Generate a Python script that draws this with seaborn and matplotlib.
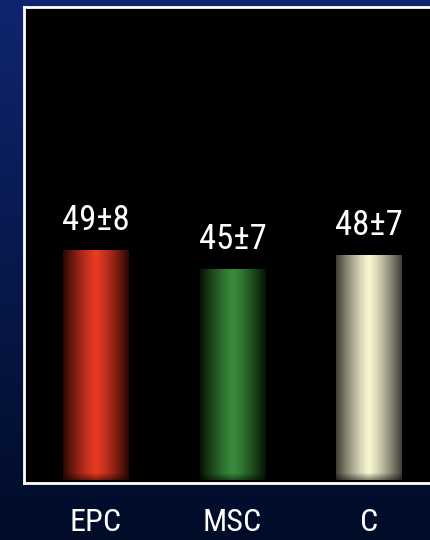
import numpy as np
import pandas as pd
import matplotlib
matplotlib.use("Agg")
import matplotlib.pyplot as plt
import seaborn as sns
from matplotlib import font_manager as fm
from matplotlib.colors import to_rgb

# ---- data ----
categories = ["EPC", "MSC", "C"]
means = [49, 45, 48]
sds = [8, 7, 7]
center_colors = ["#ea3b24", "#3a8c3c", "#f8f6d2"]
edge_colors = ["#2a0704", "#041204", "#3e3e36"]

df = pd.DataFrame({"group": categories, "value": means})

sns.set_theme(style="white")

# choose a narrow font if one is installed
names = {f.name for f in fm.fontManager.ttflist}
stretch = "normal"
family = "DejaVu Sans"
for cand in ["Liberation Sans Narrow", "Roboto Condensed", "Open Sans Condensed"]:
    if cand in names:
        family = cand
        break
else:
    if any(f.name == "DejaVu Sans" and f.stretch in ("condensed", 75, "semi-condensed")
           for f in fm.fontManager.ttflist):
        stretch = "condensed"
    elif "Noto Sans CJK JP" in names:
        family = "Noto Sans CJK JP"
plt.rcParams['font.family'] = [family, 'DejaVu Sans']

fig = plt.figure(figsize=(4.31, 5.40), dpi=100)

# background gradient
bg = fig.add_axes([0, 0, 1, 1], zorder=0)
grad = np.linspace(0, 1, 256).reshape(-1, 1)
top = np.array(to_rgb("#10256f"))
bot = np.array(to_rgb("#000c28"))
img = top[None, None, :] * (1 - grad[..., None]) + bot[None, None, :] * grad[..., None]
bg.imshow(img, aspect="auto", extent=[0, 1, 0, 1])
bg.set_axis_off()

ax = fig.add_axes([24 / 431, 1 - 483 / 540, (441 - 24) / 431, (483 - 7) / 540], zorder=1)
ax.set_facecolor("black")
sns.barplot(data=df, x="group", y="value", ax=ax, width=0.48,
            color="black", errorbar=None)

for i, patch in enumerate(ax.patches):
    x0, y0 = patch.get_x(), patch.get_y()
    w, h = patch.get_width(), patch.get_height()
    xs = np.linspace(-1, 1, 200)
    prof = np.clip(1 - np.abs(xs) ** 1.25, 0, 1)
    c1 = np.array(to_rgb(center_colors[i]))
    c0 = np.array(to_rgb(edge_colors[i]))
    row = c0[None, :] + (c1 - c0)[None, :] * prof[:, None]
    ys = np.linspace(0, 1, 200)
    vf = np.clip(0.55 + ys / 0.03 * 0.45, 0.55, 1.0)  # slight fade at bottom
    im = row[None, :, :] * vf[:, None, None]
    patch.set_facecolor("none")
    patch.set_edgecolor("none")
    art = ax.imshow(im, extent=[x0, x0 + w, y0, y0 + h], origin="lower",
                    aspect="auto", zorder=2, interpolation="bilinear")
    art.set_clip_path(patch)
    ax.text(x0 + w / 2, y0 + h + 2.8, f"{means[i]}±{sds[i]}", color="white",
            ha="center", va="bottom", fontsize=25, fontstretch=stretch, zorder=3)

ax.set_xlim(-0.526, 2.526)
ax.set_ylim(-0.6, 100.9)
ax.set_xlabel("")
ax.set_ylabel("")
ax.set_yticks([])
ax.tick_params(axis="x", length=0, pad=18, labelsize=23, colors="white")
for lab in ax.get_xticklabels():
    lab.set_fontstretch(stretch)
for s in ax.spines.values():
    s.set_color("white")
    s.set_linewidth(2)

fig.savefig("out.png", dpi=100, facecolor=fig.get_facecolor())
